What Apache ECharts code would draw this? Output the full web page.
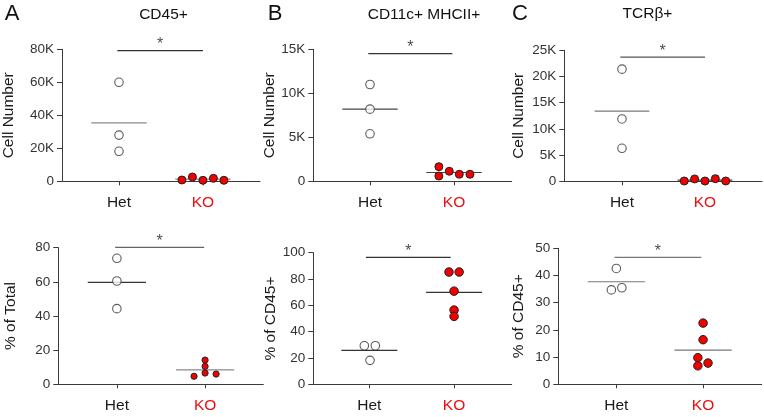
<!DOCTYPE html>
<html><head><meta charset="utf-8">
<script src="https://cdn.jsdelivr.net/npm/echarts@6/dist/echarts.min.js"></script>
<style>html,body{margin:0;padding:0;background:#fff}#c{width:764px;height:417px}</style>
</head><body><div id="c"></div>
<script>
// ---------- data ----------
const groups = ['Het', 'KO'];
const panelLetters = ['A', 'B', 'C'];
const panelTitles = ['CD45+', 'CD11c+ MHCII+', 'TCRβ+'];
const yNamesTop = ['Cell Number', 'Cell Number', 'Cell Number'];
const yNamesBottom = ['% of Total', '% of CD45+', '% of CD45+'];

// A top: CD45+ cell number
const aCountHet = [60000, 28000, 18200];
const aCountHetJitter = [0, 0, 0];
const aCountKO = [800, 2600, 600, 1800, 600];
const aCountKOJitter = [-0.25, -0.125, 0, 0.125, 0.25];
const aCountMeans = [35400, 1300];
const aCountSig = 79200;
// B top: CD11c+ MHCII+ cell number
const bCountHet = [11000, 8200, 5400];
const bCountHetJitter = [0, 0, 0];
const bCountKO = [1660, 600, 1140, 800, 800];
const bCountKOJitter = [-0.18, -0.18, -0.056, 0.063, 0.19];
const bCountMeans = [8200, 1000];
const bCountSig = 14500;
// C top: TCRb+ cell number
const cCountHet = [21400, 11900, 6300];
const cCountHetJitter = [0, 0, 0];
const cCountKO = [60, 450, 60, 500, 60];
const cCountKOJitter = [-0.25, -0.125, 0, 0.125, 0.25];
const cCountMeans = [13400, 230];
const cCountSig = 23700;
// A bottom: % of total
const aPctHet = [73.8, 60.5, 44.3];
const aPctHetJitter = [0, 0, 0];
const aPctKO = [4.7, 14.2, 10.5, 6.6, 6.0];
const aPctKOJitter = [-0.125, 0, 0, 0, 0.125];
const aPctMeans = [59.7, 8.5];
const aPctSig = 80.2;
// B bottom: % of CD45+
const bPctHet = [29.3, 29.3, 18.2];
const bPctHetJitter = [-0.059, 0.071, 0.008];
const bPctKO = [85.3, 85.3, 70.8, 56.4, 51.6];
const bPctKOJitter = [-0.06, 0.06, 0, 0, 0];
const bPctMeans = [25.8, 69.9];
const bPctSig = 96.4;
// C bottom: % of CD45+
const cPctHet = [42.6, 34.7, 35.5];
const cPctHetJitter = [0, -0.057, 0.064];
const cPctKO = [22.5, 16.4, 9.8, 7.8, 6.8];
const cPctKOJitter = [0, 0, -0.06, 0.057, -0.06];
const cPctMeans = [37.7, 12.6];
const cPctSig = 46.7;

// ---------- layout / style ----------
const FONT = '"Liberation Sans", Arial, Helvetica, sans-serif';
const TXT = '#1a1a1a';
const AX = '#3a3a3a';
const RED = '#f20c0c';
const kFmt = v => v === 0 ? '0' : (v / 1000) + 'K';

const panels = [
  {grid:{left:62, top:49.3, width:198, height:132}, xr:[0.321, 2.68], ymax:80000, yint:20000, fmt:kFmt, name:yNamesTop[0], gap:45,
   het:aCountHet, hj:aCountHetJitter, ko:aCountKO, kj:aCountKOJitter, means:aCountMeans, sig:aCountSig, sigX:[0.98,2.0], mc:['#8a8a8a','#8a8a8a'], sc:'#333', ks:8, hs:8.5},
  {grid:{left:313.3, top:49.3, width:198.4, height:132}, xr:[0.325, 2.687], ymax:15000, yint:5000, fmt:kFmt, name:yNamesTop[1], gap:34,
   het:bCountHet, hj:bCountHetJitter, ko:bCountKO, kj:bCountKOJitter, means:bCountMeans, sig:bCountSig, sigX:[0.98,1.98], mc:['#444','#444'], sc:'#333', ks:8, hs:8.5},
  {grid:{left:564.3, top:50.3, width:197.7, height:131}, xr:[0.305, 2.687], ymax:25000, yint:5000, fmt:kFmt, name:yNamesTop[2], gap:38,
   het:cCountHet, hj:cCountHetJitter, ko:cCountKO, kj:cCountKOJitter, means:cCountMeans, sig:cCountSig, sigX:[0.98,2.0], mc:['#777','#444'], sc:'#555', ks:8, hs:8.5},
  {grid:{left:58.3, top:247.7, width:205, height:136.6}, xr:[0.336, 2.66], ymax:80, yint:20, fmt:null, name:yNamesBottom[0], gap:40,
   het:aPctHet, hj:aPctHetJitter, ko:aPctKO, kj:aPctKOJitter, means:aPctMeans, sig:aPctSig, sigX:[0.98,1.99], mc:['#333','#8a8a8a'], sc:'#666', ks:6.2, hs:8.5},
  {grid:{left:313.3, top:252.7, width:198.4, height:131.6}, xr:[0.339, 2.68], ymax:100, yint:20, fmt:null, name:yNamesBottom[1], gap:34,
   het:bPctHet, hj:bPctHetJitter, ko:bPctKO, kj:bPctKOJitter, means:bPctMeans, sig:bPctSig, sigX:[0.96,1.96], mc:['#333','#333'], sc:'#333', ks:8.5, hs:8.5},
  {grid:{left:558.3, top:248.3, width:203.4, height:136}, xr:[0.331, 2.676], ymax:50, yint:10, fmt:null, name:yNamesBottom[2], gap:32,
   het:cPctHet, hj:cPctHetJitter, ko:cPctKO, kj:cPctKOJitter, means:cPctMeans, sig:cPctSig, sigX:[0.98,1.98], mc:['#777','#777'], sc:'#777', ks:8.5, hs:8.5}
];

const grids = [], xAxes = [], yAxes = [], series = [];
const HALF = 0.33;
panels.forEach((p, i) => {
  grids.push(Object.assign({containLabel:false, outerBoundsMode:'none'}, p.grid));
  xAxes.push({
    type:'value', gridIndex:i, min:p.xr[0], max:p.xr[1],
    axisLine:{show:true, lineStyle:{color:AX, width:1}},
    axisTick:{show:true, customValues:[1,2], length:4, lineStyle:{color:AX}},
    axisLabel:{show:true, customValues:[1,2], margin:13,
      formatter: v => Math.round(v) === 1 ? '{h|' + groups[0] + '}' : '{k|' + groups[1] + '}',
      rich:{h:{color:TXT, fontSize:15.5, fontFamily:FONT}, k:{color:RED, fontSize:15.5, fontFamily:FONT}}},
    splitLine:{show:false}
  });
  yAxes.push({
    type:'value', gridIndex:i, min:0, max:p.ymax, interval:p.yint,
    name:p.name, nameLocation:'middle', nameGap:p.gap, nameRotate:90,
    nameTextStyle:{color:TXT, fontSize:15.5, fontFamily:FONT},
    axisLine:{show:true, lineStyle:{color:AX, width:1}},
    axisTick:{show:true, length:5, lineStyle:{color:AX}},
    axisLabel:{color:'#333', fontSize:13.5, fontFamily:FONT, margin:8, formatter:p.fmt || (v => String(v))},
    splitLine:{show:false}
  });
  const lineStyle = (c) => ({color:c, width:1.2});
  series.push({type:'line', xAxisIndex:i, yAxisIndex:i, symbol:'none', silent:true, z:1, clip:false,
    lineStyle:lineStyle(p.mc[0]), data:[[1 - HALF, p.means[0]], [1 + HALF, p.means[0]]]});
  series.push({type:'line', xAxisIndex:i, yAxisIndex:i, symbol:'none', silent:true, z:1, clip:false,
    lineStyle:lineStyle(p.mc[1]), data:[[2 - HALF, p.means[1]], [2 + HALF, p.means[1]]]});
  series.push({type:'line', xAxisIndex:i, yAxisIndex:i, symbol:'none', silent:true, z:1, clip:false,
    lineStyle:lineStyle(p.sc), data:[[p.sigX[0], p.sig], [p.sigX[1], p.sig]]});
  series.push({type:'scatter', xAxisIndex:i, yAxisIndex:i, symbolSize:0, silent:true, z:3, clip:false,
    label:{show:true, position:'top', distance:-2, formatter:'*', color:TXT, fontSize:16, fontFamily:FONT},
    data:[[(p.sigX[0] + p.sigX[1]) / 2, p.sig]]});
  series.push({type:'scatter', xAxisIndex:i, yAxisIndex:i, symbol:'circle', symbolSize:p.hs, z:4, clip:false,
    itemStyle:{color:'#fff', borderColor:'#333', borderWidth:1.1},
    data:p.het.map((v, j) => [1 + p.hj[j], v])});
  series.push({type:'scatter', xAxisIndex:i, yAxisIndex:i, symbol:'circle', symbolSize:p.ks, z:4, clip:false,
    itemStyle:{color:'#f20000', borderColor:'#222', borderWidth:1, opacity:1},
    data:p.ko.map((v, j) => [2 + p.kj[j], v])});
});

const letterPos = [[12, 14], [275, 14], [520, 14]];
const titlePos = [[163.5, 14.5], [424, 14.5], [647.5, 14]];
const graphic = [];
panelLetters.forEach((t, i) => {
  graphic.push({type:'text', x:letterPos[i][0], y:letterPos[i][1], silent:true,
    style:{text:t, fill:'#111', fontSize:22, fontFamily:FONT, align:'center', verticalAlign:'middle'}});
  graphic.push({type:'text', x:titlePos[i][0], y:titlePos[i][1], silent:true,
    style:{text:panelTitles[i], fill:'#111', fontSize:15.5, fontFamily:FONT, align:'center', verticalAlign:'middle'}});
});

const chart = echarts.init(document.getElementById('c'), null, {renderer:'canvas'});
chart.setOption({
  animation:false,
  backgroundColor:'#fff',
  textStyle:{fontFamily:FONT},
  grid:grids, xAxis:xAxes, yAxis:yAxes, series:series, graphic:graphic
});
</script>
</body></html>
